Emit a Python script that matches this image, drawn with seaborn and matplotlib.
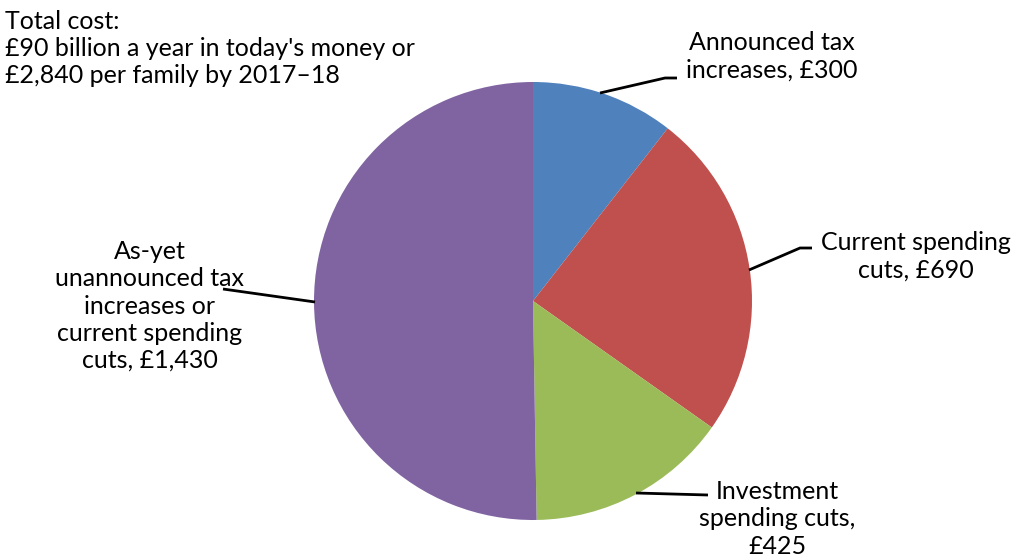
import matplotlib
matplotlib.use("Agg")
import matplotlib.pyplot as plt
import seaborn as sns

categories = ["Announced tax\nincreases, £300",
              "Current spending\ncuts, £690",
              "Investment\nspending cuts,\n£425",
              "As-yet\nunannounced tax\nincreases or\ncurrent spending\ncuts, £1,430"]
values = [300, 690, 425, 1430]
colors = ["#4F81BD", "#C0504D", "#9BBB59", "#8064A2"]
title_lines = "Total cost:\n£90 billion a year in today's money or\n£2,840 per family by 2017\u201318"

sns.set_theme(style="white")
plt.rcParams['font.family'] = ['Lato', 'DejaVu Sans']

W, H = 1018, 555
fig = plt.figure(figsize=(W / 100, H / 100), dpi=100)
ax = fig.add_axes([0, 0, 1, 1])

cx, cy, r = 533, H - 301, 219
ax.pie(values, colors=sns.color_palette(colors), startangle=90, counterclock=False,
       center=(cx, cy), radius=r, frame=True,
       wedgeprops=dict(linewidth=0))
ax.set_xlim(0, W)
ax.set_ylim(0, H)
ax.set_aspect('equal')
ax.axis('off')

fs = 18
ls = 1.22
# leader lines (pixel coords, y from top)
leaders = [
    [(600, 93), (665, 78), (677, 78)],
    [(749, 270), (800, 248), (812, 248)],
    [(636, 493), (708, 495)],
    [(315, 302), (223, 289)],
]
for pts in leaders:
    xs = [p[0] for p in pts]
    ys = [H - p[1] for p in pts]
    ax.plot(xs, ys, color="black", lw=2, solid_capstyle='butt')

label_pos = [(772, 56), (916, 256), (777, 519), (150, 306)]
for lab, (x, y) in zip(categories, label_pos):
    ax.text(x, H - y, lab, ha='center', va='center', fontsize=fs,
            linespacing=ls, color='black')

ax.text(5, H - 10, title_lines, ha='left', va='top', fontsize=fs,
        linespacing=ls, color='black')

fig.savefig("out.png", dpi=100)
